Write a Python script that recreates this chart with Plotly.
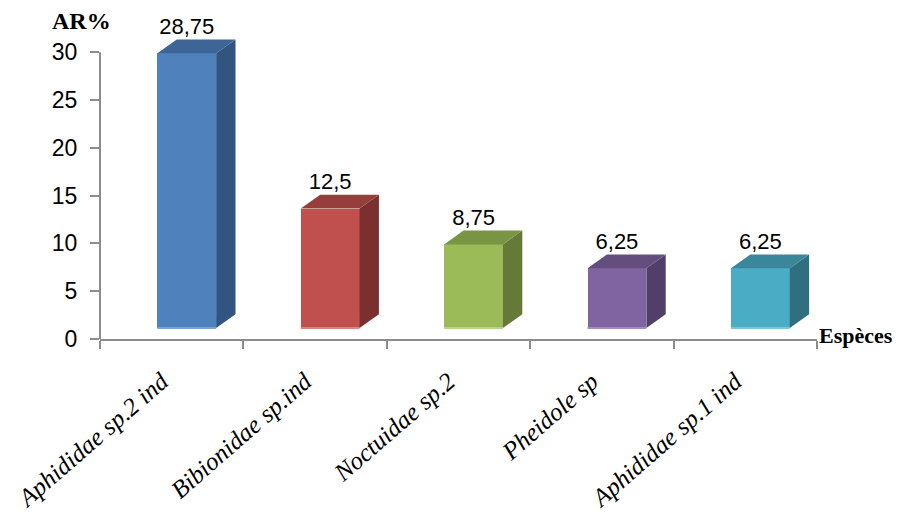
import plotly.graph_objects as go

# Species and their relative abundance (AR %)
species = ["Aphididae sp.2 ind", "Bibionidae sp.ind", "Noctuidae sp.2",
           "Pheidole sp", "Aphididae sp.1 ind"]
ar_values = [28.75, 12.5, 8.75, 6.25, 6.25]
value_labels = ["28,75", "12,5", "8,75", "6,25", "6,25"]
y_ticks = [0, 5, 10, 15, 20, 25, 30]

# Face colours for the pseudo-3D columns: front, top, side, bottom edge
front_colors = ["#4F81BD", "#C0504D", "#9BBB59", "#8064A2", "#4BACC6"]
top_colors = ["#3D6596", "#963E3C", "#799443", "#644E80", "#3A879B"]
side_colors = ["#325480", "#7B302F", "#657A39", "#523F69", "#2F6F80"]
edge_colors = ["#7DA3D4", "#D98481", "#BAD38B", "#A28DC0", "#7DC6DA"]

# 3D projection parameters (in axis units)
base = 1.15      # floor lift of the front faces
depth_x = 0.135  # horizontal depth offset
depth_y = 1.45   # vertical depth offset
bar_offset = -0.10
bar_width = 0.41
label_shift = -0.07  # nudges the rotated category labels so they end under each slot

axis_gray = "#8C8C8C"
idx = list(range(len(species)))

fig = go.Figure()

# Front faces
fig.add_trace(go.Bar(
    x=idx, y=ar_values, base=[base] * len(idx),
    width=bar_width, offset=bar_offset,
    marker=dict(color=front_colors, line=dict(width=0)),
    hoverinfo="skip", showlegend=False,
))

for i, v in enumerate(ar_values):
    x0 = i + bar_offset
    x1 = x0 + bar_width
    y0 = base
    y1 = base + v
    # right side face
    fig.add_trace(go.Scatter(
        x=[x1, x1 + depth_x, x1 + depth_x, x1, x1],
        y=[y0, y0 + depth_y, y1 + depth_y, y1, y0],
        fill="toself", fillcolor=side_colors[i], mode="lines",
        line=dict(width=0), hoverinfo="skip", showlegend=False,
    ))
    # top face
    fig.add_trace(go.Scatter(
        x=[x0, x0 + depth_x, x1 + depth_x, x1, x0],
        y=[y1, y1 + depth_y, y1 + depth_y, y1, y1],
        fill="toself", fillcolor=top_colors[i], mode="lines",
        line=dict(width=0), hoverinfo="skip", showlegend=False,
    ))
    # lighter bottom edge of the front face
    fig.add_trace(go.Scatter(
        x=[x0, x1], y=[y0, y0], mode="lines",
        line=dict(color=edge_colors[i], width=2),
        hoverinfo="skip", showlegend=False,
    ))

# Value labels above each column (bound to the label axis)
fig.add_trace(go.Scatter(
    x=[i + bar_offset + bar_width / 2 for i in idx],
    y=[base + v + depth_y for v in ar_values],
    mode="text", text=value_labels, textposition="top center",
    textfont=dict(family="Liberation Sans", size=22, color="black"),
    cliponaxis=False, hoverinfo="skip", showlegend=False,
    xaxis="x2",
))

fig.update_layout(
    width=904, height=518,
    margin=dict(l=100, r=87, t=37, b=179, autoexpand=False),
    paper_bgcolor="white", plot_bgcolor="white",
    bargap=0,
    xaxis=dict(
        range=[-0.5, 4.5], automargin=False,
        tickvals=[i - 0.5 for i in range(len(species) + 1)],
        showticklabels=False,
        ticks="outside", ticklen=8, tickwidth=2, tickcolor=axis_gray,
        showline=True, linecolor=axis_gray, linewidth=2,
        showgrid=False, zeroline=False,
    ),
    xaxis2=dict(
        overlaying="x", anchor="y", side="bottom",
        range=[-0.5, 4.5], automargin=False,
        tickvals=[i + label_shift for i in idx], ticktext=species,
        tickangle=-41,
        tickfont=dict(family="Liberation Serif", size=25, color="black",
                      style="italic"),
        ticks="", ticklabelstandoff=22,
        showline=False, showgrid=False, zeroline=False,
    ),
    yaxis=dict(
        range=[0, 31.6], automargin=False,
        tickvals=y_ticks,
        ticks="outside", ticklen=9, tickwidth=2, tickcolor=axis_gray,
        tickfont=dict(family="Liberation Sans", size=23, color="black"),
        ticklabelstandoff=8,
        showline=False, showgrid=False, zeroline=False,
    ),
    shapes=[dict(
        type="line", xref="paper", yref="y",
        x0=0, x1=0, y0=0, y1=30,
        line=dict(color=axis_gray, width=2),
    )],
    annotations=[
        dict(text="<b>AR%</b>", xref="paper", yref="paper",
             x=-0.026, y=1.053, xanchor="center", yanchor="middle",
             showarrow=False,
             font=dict(family="Liberation Serif", size=24, color="black")),
        dict(text="<b>Espèces</b>", xref="paper", yref="paper",
             x=1.0, y=0.01, xanchor="left", yanchor="middle",
             showarrow=False,
             font=dict(family="Liberation Serif", size=22, color="black")),
    ],
)

fig.write_html("out.html")
